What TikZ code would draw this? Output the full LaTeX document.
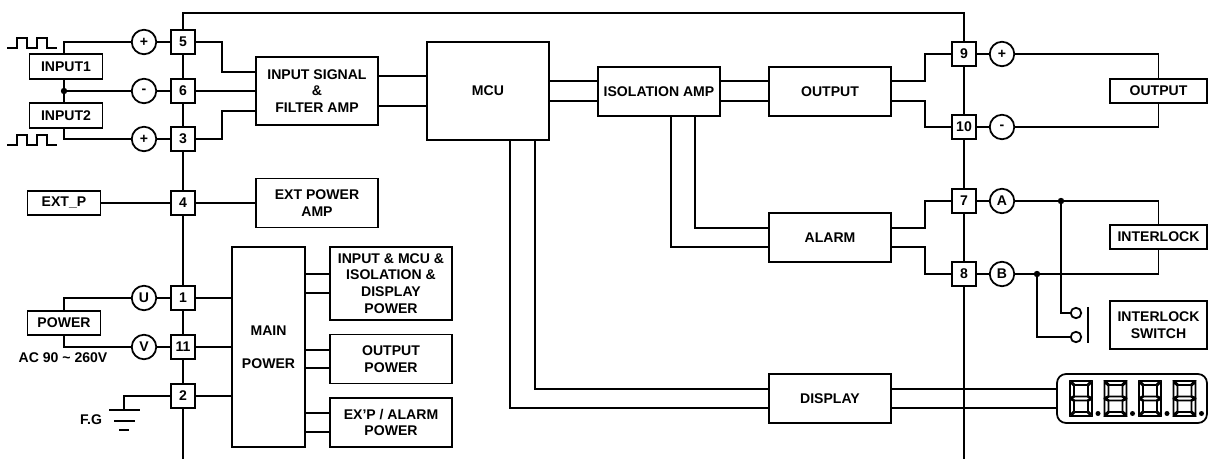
\documentclass[tikz,border=0pt]{standalone}
\usepackage{fontspec}
\setmainfont{Liberation Sans}
\usepackage{tikz}

\begin{document}
\begin{tikzpicture}[x=0.02cm, y=-0.02cm, line width=1pt,
		base_style/.style={draw=black,align=center,inner sep=0pt,font=\fontsize{8pt}{9.5pt}\selectfont\bfseries},
		term_style/.style={base_style,minimum width=0.49cm,minimum height=0.49cm,fill=white},
		sign_style/.style={base_style,circle,minimum size=0.49cm},
		small_style/.style={base_style,minimum width=1.46cm,minimum height=0.49cm},
		box_style/.style={base_style,minimum width=2.44cm,minimum height=0.98cm},
		side_style/.style={base_style,minimum width=1.94cm,minimum height=0.49cm},
		text_style/.style={align=center,inner sep=0pt,font=\fontsize{8pt}{9.5pt}\selectfont\bfseries},
		contact_style/.style={draw=black,circle,minimum size=0.21cm,inner sep=0pt},
		edge_style/.style={draw=black}]

		\useasboundingbox (0,0) rectangle (1211,459);

		% bus
		\coordinate (c_bl) at (183,459);
		\coordinate (c_br) at (964,459);
		\coordinate (c_tl) at (183,13);
		\coordinate (c_tr) at (964,13);
		\draw[edge_style] (c_bl) -- (c_tl) -- (c_tr) -- (c_br);

		% terminals
		\node[term_style] (t5) at (183,42)  {5};
		\node[term_style] (t6) at (183,91)  {6};
		\node[term_style] (t3) at (183,139)  {3};
		\node[term_style] (t4) at (183,203)  {4};
		\node[term_style] (t1) at (183,298)  {1};
		\node[term_style] (t11) at (183,347)  {11};
		\node[term_style] (t2) at (183,396)  {2};
		\node[term_style] (t9) at (964,54)  {9};
		\node[term_style] (t10) at (964,127)  {10};
		\node[term_style] (t7) at (964,201)  {7};
		\node[term_style] (t8) at (964,274)  {8};

		% signs
		\node[sign_style] (s5) at (144,42)  {+};
		\node[sign_style] (s6) at (144,91)  {-};
		\node[sign_style] (s3) at (144,139)  {+};
		\node[sign_style] (su) at (144,298)  {U};
		\node[sign_style] (sv) at (144,347)  {V};
		\node[sign_style] (s9) at (1002,54)  {+};
		\node[sign_style] (s10) at (1002,127)  {-};
		\node[sign_style] (sa) at (1002,201)  {A};
		\node[sign_style] (sb) at (1002,274)  {B};

		% left side
		\node[small_style] (input1) at (66,66.5)  {INPUT1};
		\node[small_style] (input2) at (66,115.5)  {INPUT2};
		\node[small_style] (extp) at (64,203)  {EXT\_P};
		\node[small_style] (power) at (64,323)  {POWER};
		\node[text_style] (ac) at (63,358)  {AC 90 \textasciitilde{} 260V};
		\node[text_style] (fg) at (91,420)  {F.G};

		% blocks
		\node[box_style,minimum height=1.36cm] (filter) at (317,91)  {INPUT SIGNAL\\\&\\FILTER AMP};
		\node[box_style] (extamp) at (317,203)  {EXT POWER\\AMP};
		\node[box_style,minimum height=1.96cm] (mcu) at (488,91)  {MCU};
		\node[box_style] (iso) at (659,91.5)  {ISOLATION AMP};
		\node[box_style] (out) at (830,91.5)  {OUTPUT};
		\node[box_style] (alarm) at (830,237.5)  {ALARM};
		\node[box_style] (display) at (830,398.5)  {DISPLAY};
		\node[base_style,minimum width=1.46cm,minimum height=4cm,font=\fontsize{8pt}{19pt}\selectfont\bfseries] (main) at (268.5,347)  {MAIN\\POWER};
		\node[box_style,minimum height=1.46cm] (pwr1) at (391,283.5)  {INPUT \& MCU \&\\ISOLATION \&\\DISPLAY\\POWER};
		\node[box_style] (pwr2) at (391,359)  {OUTPUT\\POWER};
		\node[box_style] (pwr3) at (391,422.5)  {EX'P / ALARM\\POWER};

		% right side
		\node[side_style] (outbox) at (1158.5,91)  {OUTPUT};
		\node[side_style] (lockbox) at (1158.5,237)  {INTERLOCK};
		\node[side_style,minimum height=0.96cm] (lockswitch) at (1158.5,325)  {INTERLOCK\\SWITCH};
		\node[draw=black,rounded corners=0.18cm,minimum width=3cm,minimum height=0.98cm] (fnd) at (1132,398.5)  {};
		\node[contact_style] (k1) at (1076,313)  {};
		\node[contact_style] (k2) at (1076,337)  {};
		\coordinate (k_top) at (1088,307);
		\coordinate (k_bot) at (1088,343);
		\coordinate (j_a) at (1061,201);
		\coordinate (j_b) at (1037,274);
		\coordinate (j_in) at (64,91);

		% pulses
		\foreach \y in {48,145}
			\draw[edge_style] (7,\y) -- ++(10,0) -- ++(0,-10) -- ++(10,0) -- ++(0,10) -- ++(10,0) -- ++(0,-10) -- ++(10,0) -- ++(0,10) -- ++(10,0);

		% input wiring
		\draw[edge_style] (input1.north -| j_in) |- (s5);
		\draw[edge_style] (input1.south -| j_in) -- (input2.north -| j_in);
		\draw[edge_style] (input2.south -| j_in) |- (s3);
		\draw[edge_style] (j_in) -- (s6);
		\fill (j_in) circle (3.2);
		\draw[edge_style] (extp) -- (t4);
		\draw[edge_style] (power.north -| j_in) |- (su);
		\draw[edge_style] (power.south -| j_in) |- (sv);
		\foreach \a/\b in {s5/t5,s6/t6,s3/t3,su/t1,sv/t11,t9/s9,t10/s10,t7/sa,t8/sb}
			\draw[edge_style] (\a) -- (\b);
		\draw[edge_style] (t5.east) -- (222,42) -- (222,72) -- (filter.west |- 0,72);
		\draw[edge_style] (t6.east) -- (filter.west |- t6);
		\draw[edge_style] (t3.east) -- (222,139) -- (222,111) -- (filter.west |- 0,111);
		\draw[edge_style] (t4) -- (extamp);
		\draw[edge_style] (t1) -- (main.west |- t1);
		\draw[edge_style] (t11) -- (main.west |- t11);
		\draw[edge_style] (t2) -- (main.west |- t2);

		% ground
		\coordinate (g_top) at (124,410);
		\draw[edge_style] (t2) -| (g_top);
		\draw[edge_style] (109,410) -- (140,410);
		\draw[edge_style] (114,421) -- (135,421);
		\draw[edge_style] (119,430) -- (129,430);

		% double lines
		\foreach \y/\a/\b in {76/filter/mcu,106/filter/mcu,81/mcu/iso,101/mcu/iso,81/iso/out,101/iso/out}
			\draw[edge_style] (\a.east |- 0,\y) -- (\b.west |- 0,\y);
		\foreach \y in {274,293}
			\draw[edge_style] (main.east |- 0,\y) -- (pwr1.west |- 0,\y);
		\foreach \y in {350,368}
			\draw[edge_style] (main.east |- 0,\y) -- (pwr2.west |- 0,\y);
		\foreach \y in {413,432}
			\draw[edge_style] (main.east |- 0,\y) -- (pwr3.west |- 0,\y);
		\draw[edge_style] (mcu.south -| 535,0) |- (display.west |- 0,389);
		\draw[edge_style] (mcu.south -| 510,0) |- (display.west |- 0,408);
		\draw[edge_style] (iso.south -| 695,0) |- (alarm.west |- 0,228);
		\draw[edge_style] (iso.south -| 671,0) |- (alarm.west |- 0,247);
		\draw[edge_style] (display.east |- 0,389) -- (fnd.west |- 0,389);
		\draw[edge_style] (display.east |- 0,408) -- (fnd.west |- 0,408);

		% output wiring
		\draw[edge_style] (out.east |- 0,81) -- (925,81) -- (925,54) -- (t9.west);
		\draw[edge_style] (out.east |- 0,101) -- (925,101) -- (925,127) -- (t10.west);
		\draw[edge_style] (alarm.east |- 0,228) -- (925,228) -- (925,201) -- (t7.west);
		\draw[edge_style] (alarm.east |- 0,247) -- (925,247) -- (925,274) -- (t8.west);
		\draw[edge_style] (s9) -| (outbox.north);
		\draw[edge_style] (s10) -| (outbox.south);
		\draw[edge_style] (sa) -| (lockbox.north);
		\draw[edge_style] (sb) -| (lockbox.south);
		\fill (j_a) circle (3.2);
		\fill (j_b) circle (3.2);
		\draw[edge_style] (j_a) |- (k1);
		\draw[edge_style] (j_b) |- (k2);
		\draw[edge_style] (k_top) -- (k_bot);

		% digits
		\foreach \d in {0,1,2,3} {
			\begin{scope}[shift={(1070+34.5*\d,381)}]
				\draw[line width=0.9pt] (1,0) -- (21,0) -- (17,4) -- (5,4) -- cycle;
				\draw[line width=0.9pt] (1,35) -- (21,35) -- (17,31) -- (5,31) -- cycle;
				\draw[line width=0.9pt] (1,17.5) -- (5,15.5) -- (17,15.5) -- (21,17.5) -- (17,19.5) -- (5,19.5) -- cycle;
				\foreach \sx in {1,-1} {
					\begin{scope}[shift={(11,0)},xscale=\sx]
						\draw[line width=0.9pt] (-11,1) -- (-7,5) -- (-7,15) -- (-11,17) -- cycle;
						\draw[line width=0.9pt] (-11,18) -- (-7,20) -- (-7,30) -- (-11,34) -- cycle;
					\end{scope}
				}
				\fill (28,32.5) circle (2.5);
			\end{scope}
		}

\end{tikzpicture}
\end{document}
